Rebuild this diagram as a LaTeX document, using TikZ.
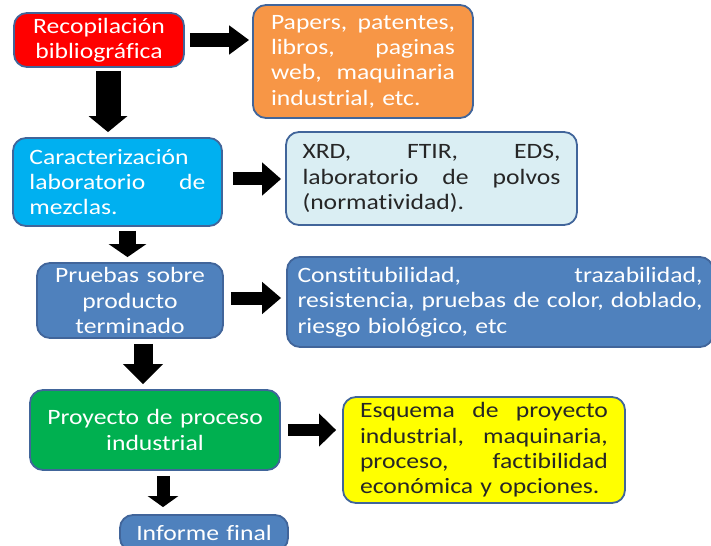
\documentclass[tikz,border=0pt]{standalone}
\usepackage{fontspec}
\setmainfont[FakeStretch=1.17,WordSpace=0.8,Ligatures=NoCommon]{Carlito}
\usetikzlibrary{arrows.meta}
\hyphenpenalty=10000
\exhyphenpenalty=10000
\definecolor{bordc}{HTML}{41659A}
\definecolor{cred}{HTML}{FF0000}
\definecolor{corange}{HTML}{F79646}
\definecolor{ccyan}{HTML}{00B0F0}
\definecolor{clblue}{HTML}{DAEEF3}
\definecolor{cblue}{HTML}{4F81BD}
\definecolor{cgreen}{HTML}{00B050}
\definecolor{cyellow}{HTML}{FFFF00}
\definecolor{cdark}{HTML}{262626}
\newcommand\jl[2]{\leavevmode\hbox to #1{#2}}
\tikzset{
  box/.style={draw=bordc, line width=1.8bp, rounded corners=13bp, inner xsep=0pt, inner ysep=0pt,
    font=\fontsize{22}{25.5}\selectfont, text=white},
  barrow/.style n args={3}{draw=black, line width=#1, -{Triangle[width=#2,length=#3]}},
}
\begin{document}
\begin{tikzpicture}[x=1bp,y=-1bp]
\useasboundingbox (0,0) rectangle (711,546);
\node[box, fill=cred, minimum width=170bp, minimum height=54bp, text width=160bp, align=center] (b1) at (99,40) {Recopilación\\bibliográfica};
\node[box, fill=corange, minimum width=220bp, minimum height=113bp, text width=184bp, align=left] (o) at (363,61.5) {\jl{184bp}{Papers,\hfill patentes,}\\\jl{184bp}{libros,\hfill paginas}\\\jl{184bp}{web,\hfill maquinaria}\\industrial, etc.};
\node[box, fill=ccyan, minimum width=209bp, minimum height=88bp, text width=176bp, align=left] (b2) at (117.5,182) {Caracterización\\\jl{176bp}{laboratorio\hfill de}\\mezclas.};
\node[box, fill=clblue, text=cdark, minimum width=291bp, minimum height=93bp, text width=258bp, align=left] (lb) at (431.5,178.5) {\jl{258bp}{XRD,\hfill FTIR,\hfill EDS,}\\\jl{258bp}{laboratorio\hfill de\hfill polvos}\\(normatividad).};
\node[box, fill=cblue, minimum width=186bp, minimum height=75bp, text width=180bp, align=center] (b3) at (130,300.5) {Pruebas sobre\\producto\\terminado};
\node[box, fill=cblue, minimum width=426bp, minimum height=90bp, text width=405bp, align=left] (cb) at (500,302) {\jl{405bp}{Constitubilidad,\hfill trazabilidad,}\\\jl{405bp}{resistencia,\hfill pruebas\hfill de\hfill color,\hfill doblado,}\\riesgo biológico, etc};
\node[box, fill=cgreen, minimum width=250bp, minimum height=80bp, text width=240bp, align=center] (g) at (155,430) {Proyecto de proceso\\industrial};
\node[box, fill=cyellow, text=cdark, minimum width=282bp, minimum height=106bp, text width=248bp, align=left] (y) at (484,450) {\jl{248bp}{Esquema\hfill de\hfill proyecto}\\\jl{248bp}{industrial,\hfill maquinaria,}\\\jl{248bp}{proceso,\hfill factibilidad}\\económica y opciones.};
\node[box, fill=cblue, minimum width=168bp, minimum height=36bp, text width=164bp, align=center] (inf) at (204,533) {Informe final};
% arrows
\draw[barrow={14bp}{28bp}{20bp}, shorten <=5bp, shorten >=3bp] (b1.east) -- (b1.east -| o.west);
\draw[barrow={25bp}{38bp}{16bp}, shorten <=3bp, shorten >=5bp] ([xshift=9bp]b1.south) -- ([xshift=9bp]b1.south |- b2.north);
\draw[barrow={13bp}{32bp}{19bp}, shorten <=10bp, shorten >=4bp] ([yshift=3bp]b2.east) -- ([yshift=3bp]b2.east -| lb.west);
\draw[barrow={17bp}{37bp}{13bp}, shorten <=4bp, shorten >=5bp] ([xshift=10bp]b2.south) -- ([xshift=10bp]b2.south |- b3.north);
\draw[barrow={13bp}{31bp}{19bp}, shorten <=7bp, shorten >=5bp] ([yshift=2.5bp]b3.east) -- ([yshift=2.5bp]b3.east -| cb.west);
\draw[barrow={19bp}{39bp}{20bp}, shorten <=5bp, shorten >=5bp] ([xshift=13bp]b3.south) -- ([xshift=13bp]b3.south |- g.north);
\draw[barrow={12bp}{32bp}{17bp}, shorten <=7bp, shorten >=6bp] (g.east) -- (g.east -| y.west);
\draw[barrow={13bp}{30bp}{11bp}, shorten <=5bp, shorten >=7bp] ([xshift=8bp]g.south) -- ([xshift=8bp]g.south |- inf.north);
\end{tikzpicture}
\end{document}
